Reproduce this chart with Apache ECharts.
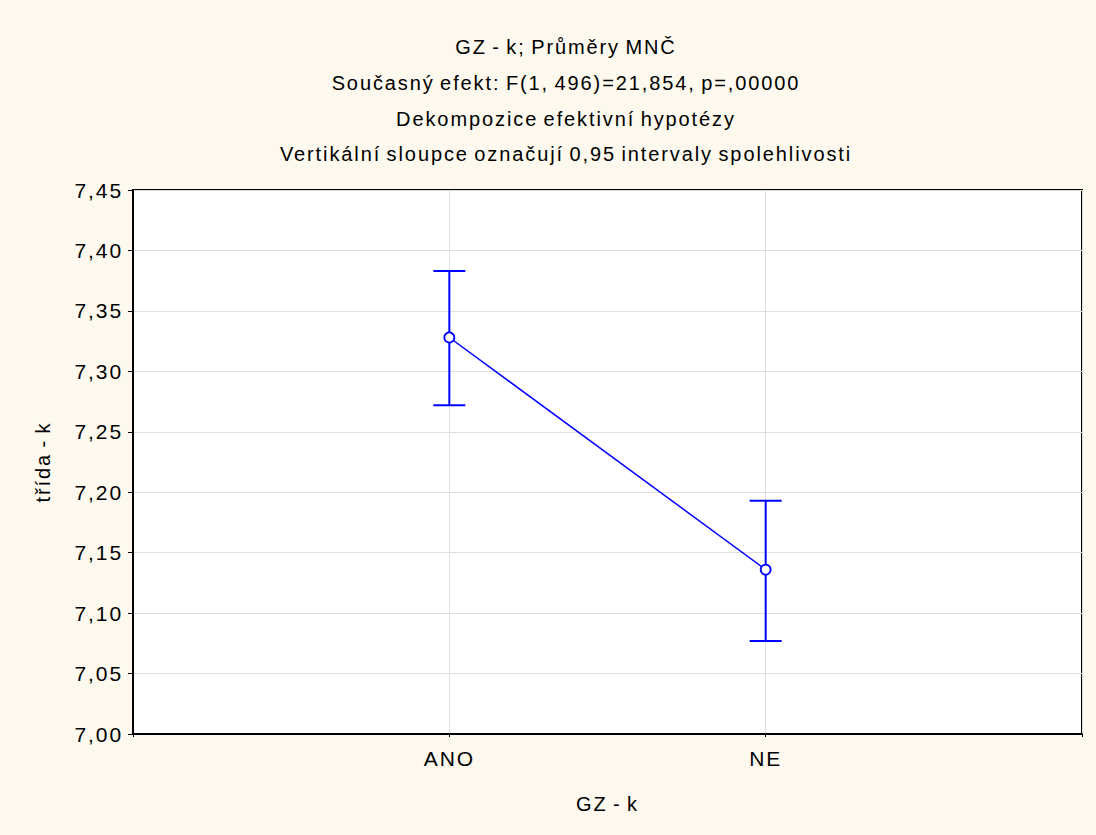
<!DOCTYPE html>
<html>
<head>
<meta charset="utf-8">
<script src="https://cdn.jsdelivr.net/npm/echarts@6/dist/echarts.min.js"></script>
<style>
  html, body { margin: 0; padding: 0; background: #fdf9ee; }
  #chart { width: 1096px; height: 835px; }
  /* widely tracked lettering, as in the statistics package output */
  #chart text { letter-spacing: 1.9px; word-spacing: -2px; }
</style>
</head>
<body>
<div id="chart"></div>
<script>
// Group labels (GZ - k) and least-squares means of "třída - k" with 95% CI bounds
const categories = ['ANO', 'NE'];
const means = [7.328, 7.136];
const lower = [7.272, 7.077];
const upper = [7.383, 7.193];

const titleLines = [
  'GZ - k; Průměry MNČ',
  'Současný efekt: F(1, 496)=21,854, p=,00000',
  'Dekompozice efektivní hypotézy',
  'Vertikální sloupce označují 0,95 intervaly spolehlivosti'
];

const FONT = '"Liberation Sans", Arial, sans-serif';
const BLUE = '#0000ff';

// categories sit at positions 1..n on a numeric x axis spanning 0..n+1
const pos = categories.map((_, i) => i + 1);

const chart = echarts.init(document.getElementById('chart'), null, { renderer: 'svg' });
chart.setOption({
  backgroundColor: '#fdf9ee',
  animation: false,
  title: {
    text: titleLines.join('\n'),
    left: 561,
    top: 24,
    textAlign: 'center',
    textStyle: {
      fontFamily: FONT,
      fontSize: 20,
      fontWeight: 'normal',
      color: '#000',
      lineHeight: 35.8
    }
  },
  grid: {
    left: 133,
    right: 14,
    top: 190,
    bottom: 101,
    show: true,
    backgroundColor: '#ffffff',
    borderColor: '#000',
    borderWidth: 2
  },
  xAxis: {
    type: 'value',
    min: 0,
    max: categories.length + 1,
    interval: 1,
    name: 'GZ - k',
    nameLocation: 'middle',
    nameGap: 60,
    nameTextStyle: { fontFamily: FONT, fontSize: 20, color: '#000' },
    axisLine: { show: true, lineStyle: { color: '#000', width: 2 } },
    axisTick: { show: true, length: 3, lineStyle: { color: '#000' } },
    axisLabel: {
      fontFamily: FONT,
      fontSize: 21,
      color: '#000',
      margin: 14,
      formatter: v => (v >= 1 && v <= categories.length ? categories[v - 1] : '')
    },
    splitLine: { show: true, lineStyle: { color: '#dedede', width: 1 } }
  },
  yAxis: {
    type: 'value',
    min: 7.0,
    max: 7.45,
    interval: 0.05,
    name: 'třída - k',
    nameLocation: 'middle',
    nameGap: 80,
    nameRotate: 90,
    nameTextStyle: { fontFamily: FONT, fontSize: 20, color: '#000' },
    axisLine: { show: true, lineStyle: { color: '#000', width: 2 } },
    axisTick: { show: true, inside: false, length: 5, lineStyle: { color: '#000' } },
    axisLabel: {
      fontFamily: FONT,
      fontSize: 21,
      color: '#000',
      margin: 10,
      formatter: v => v.toFixed(2).replace('.', ',')
    },
    splitLine: { show: true, lineStyle: { color: '#dedede', width: 1 } }
  },
  series: [
    {
      type: 'custom',
      z: 3,
      renderItem: function (params, api) {
        const x = api.value(0);
        const lo = api.coord([x, api.value(1)]);
        const hi = api.coord([x, api.value(2)]);
        const half = 16;
        const style = { stroke: BLUE, lineWidth: 2, fill: null };
        return {
          type: 'group',
          children: [
            { type: 'line', shape: { x1: lo[0], y1: lo[1], x2: hi[0], y2: hi[1] }, style },
            { type: 'line', shape: { x1: lo[0] - half, y1: lo[1], x2: lo[0] + half, y2: lo[1] }, style },
            { type: 'line', shape: { x1: hi[0] - half, y1: hi[1], x2: hi[0] + half, y2: hi[1] }, style }
          ]
        };
      },
      data: pos.map((p, i) => [p, lower[i], upper[i]])
    },
    {
      type: 'line',
      z: 4,
      data: pos.map((p, i) => [p, means[i]]),
      symbol: 'circle',
      symbolSize: 10,
      lineStyle: { color: BLUE, width: 1.5 },
      itemStyle: { color: '#ffffff', borderColor: BLUE, borderWidth: 1.8 }
    }
  ]
});
</script>
</body>
</html>
